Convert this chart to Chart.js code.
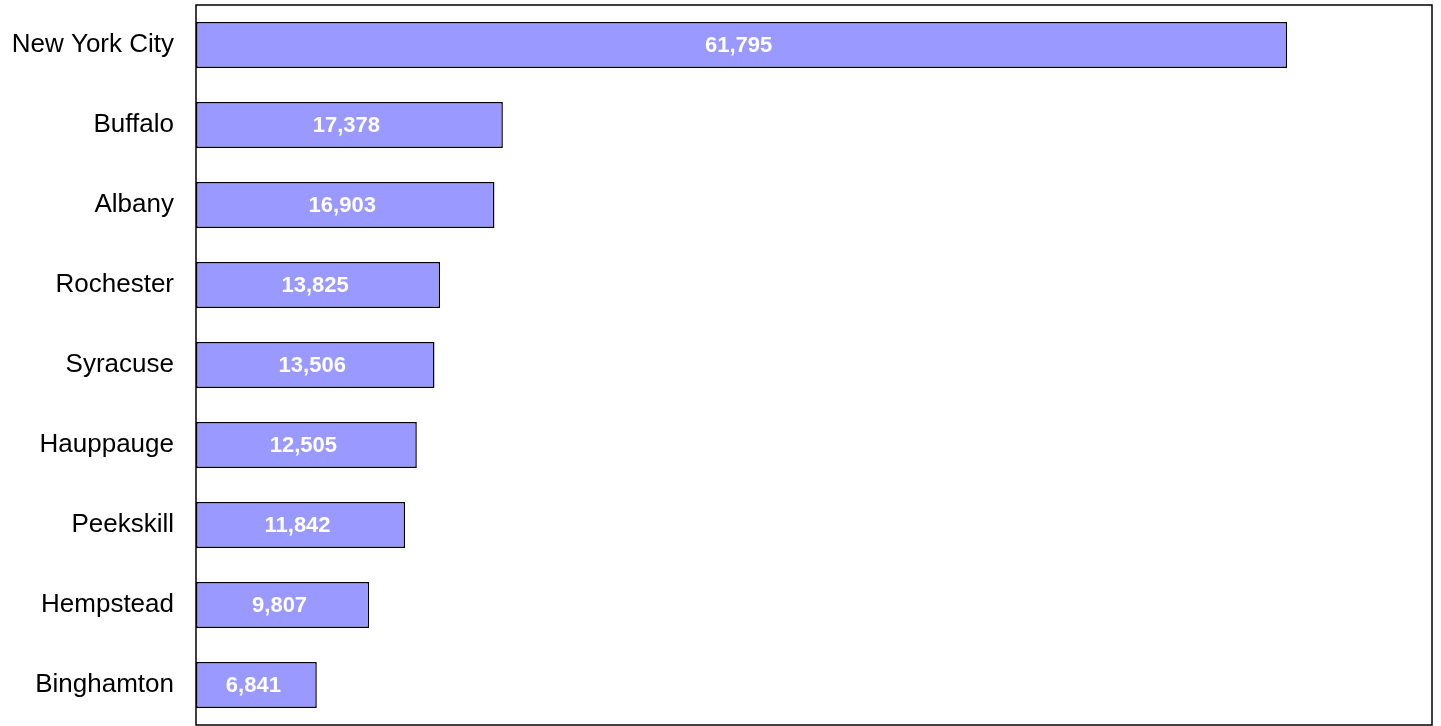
<!DOCTYPE html>
<html>
<head>
<meta charset="utf-8">
<script src="https://cdn.jsdelivr.net/npm/chart.js@4/dist/chart.umd.min.js"></script>
<style>
  html, body { margin: 0; padding: 0; background: #fff; }
  #wrap { width: 1441px; height: 726px; }
</style>
</head>
<body>
<div id="wrap"><canvas id="chart"></canvas></div>
<script>
const cities = ['New York City', 'Buffalo', 'Albany', 'Rochester', 'Syracuse', 'Hauppauge', 'Peekskill', 'Hempstead', 'Binghamton'];
const counts = [61795, 17378, 16903, 13825, 13506, 12505, 11842, 9807, 6841];
const axisMax = 70000;

// frame round the plot area
const frame = {
    id: 'frame',
    afterDraw(chart) {
        const { ctx, chartArea: a } = chart;
        ctx.save();
        ctx.strokeStyle = '#000';
        ctx.lineWidth = 1.5;
        ctx.strokeRect(a.left, a.top, a.right - a.left, a.bottom - a.top);
        ctx.restore();
    }
};

// white value labels in the middle of each bar
const barValues = {
    id: 'barValues',
    afterDatasetsDraw(chart) {
        const { ctx } = chart;
        const meta = chart.getDatasetMeta(0);
        ctx.save();
        ctx.fillStyle = '#fff';
        ctx.font = 'bold 22px "Liberation Sans", Arial, sans-serif';
        ctx.textAlign = 'center';
        ctx.textBaseline = 'middle';
        meta.data.forEach((bar, i) => {
            ctx.fillText(counts[i].toLocaleString('en-US'), (bar.x + bar.base) / 2 - 3, bar.y + 1);
        });
        ctx.restore();
    }
};

new Chart(document.getElementById('chart'), {
    type: 'bar',
    data: {
        labels: cities,
        datasets: [{
            data: counts,
            backgroundColor: '#9999FF',
            borderColor: '#000',
            borderWidth: 1.5,
            borderSkipped: false,
            categoryPercentage: 1,
            barPercentage: 0.575
        }]
    },
    options: {
        indexAxis: 'y',
        responsive: true,
        maintainAspectRatio: false,
        animation: false,
        layout: { padding: { top: 5, right: 9, bottom: 1, left: 0 } },
        plugins: {
            legend: { display: false },
            tooltip: { enabled: false }
        },
        scales: {
            x: {
                display: false,
                min: 0,
                max: axisMax
            },
            y: {
                grid: { display: false },
                border: { display: false },
                ticks: {
                    color: '#000',
                    padding: 14,
                    font: { family: '"Liberation Sans", Arial, sans-serif', size: 26 }
                },
                afterFit(scale) {
                    scale.width = 196;
                    scale.paddingTop = 0;
                    scale.paddingBottom = 0;
                }
            }
        }
    },
    plugins: [frame, barValues]
});
</script>
</body>
</html>
